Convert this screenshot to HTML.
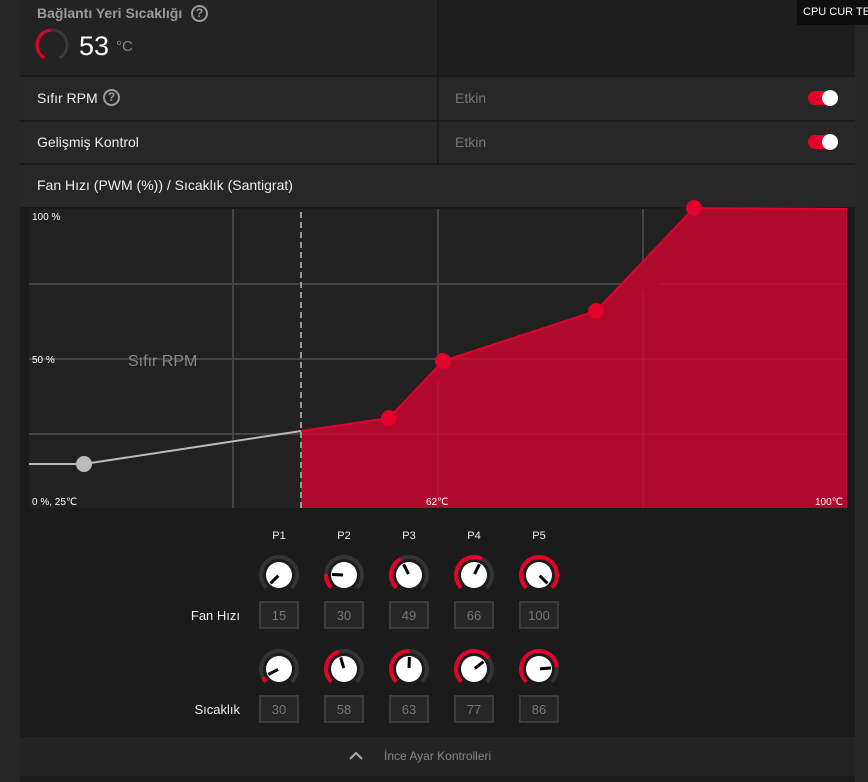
<!DOCTYPE html>
<html><head><meta charset="utf-8"><style>
*{margin:0;padding:0;box-sizing:border-box}
body{width:868px;height:782px;background:#262626;position:relative;overflow:hidden;font-family:"Liberation Sans",sans-serif}
.a{position:absolute}
</style></head><body>
<div class="a" style="left:20px;top:0;width:835px;height:782px;background:#1b1b1b"></div>
<div class="a" style="left:20px;top:0;width:417px;height:75px;background:#232323"></div>
<div class="a" style="left:439px;top:0;width:416px;height:75px;background:#1e1e1e"></div>
<div class="a" style="left:797px;top:0;width:71px;height:25px;background:#0e0e0e;color:#fff;font-size:11px;line-height:25px;padding-left:6px;white-space:nowrap;overflow:hidden">CPU CUR TEM</div>
<div class="a" style="left:37px;top:5px;color:#9a9a9a;font-size:14px;font-weight:bold">Bağlantı Yeri Sıcaklığı</div>
<div class="a" style="left:191px;top:5px;width:17px;height:17px;border:2px solid #9a9a9a;border-radius:50%;color:#9a9a9a;font-size:12px;font-weight:bold;text-align:center;line-height:13px">?</div>
<div class="a" style="left:79px;top:31px;color:#fff;font-size:27px">53</div>
<div class="a" style="left:116px;top:38px;color:#888;font-size:15px">°C</div>
<div class="a" style="left:20px;top:77px;width:417px;height:43px;background:#272727"></div>
<div class="a" style="left:439px;top:77px;width:416px;height:43px;background:#272727"></div>
<div class="a" style="left:20px;top:122px;width:417px;height:41px;background:#272727"></div>
<div class="a" style="left:439px;top:122px;width:416px;height:41px;background:#272727"></div>
<div class="a" style="left:20px;top:165px;width:835px;height:42px;background:#272727"></div>
<div class="a" style="left:37px;top:90px;color:#eee;font-size:14px">Sıfır RPM</div>
<div class="a" style="left:103px;top:89px;width:17px;height:17px;border:2px solid #9a9a9a;border-radius:50%;color:#9a9a9a;font-size:12px;font-weight:bold;text-align:center;line-height:13px">?</div>
<div class="a" style="left:37px;top:134px;color:#eee;font-size:14px">Gelişmiş Kontrol</div>
<div class="a" style="left:455px;top:90px;color:#777;font-size:14px">Etkin</div>
<div class="a" style="left:455px;top:134px;color:#777;font-size:14px">Etkin</div>
<div class="a" style="left:37px;top:177px;color:#eee;font-size:14px">Fan Hızı (PWM (%)) / Sıcaklık (Santigrat)</div>
<div class="a" style="left:808px;top:91px;width:30px;height:14px;border-radius:7px;background:#e4002b"></div>
<div class="a" style="left:822px;top:90px;width:16px;height:16px;border-radius:50%;background:#fff"></div>
<div class="a" style="left:808px;top:135px;width:30px;height:14px;border-radius:7px;background:#e4002b"></div>
<div class="a" style="left:822px;top:134px;width:16px;height:16px;border-radius:50%;background:#fff"></div>
<div class="a" style="left:20px;top:737px;width:835px;height:39px;background:#232323"></div>
<div class="a" style="left:384px;top:749px;color:#888;font-size:12px">İnce Ayar Kontrolleri</div>
<svg class="a" style="left:0;top:0" width="868" height="782" id="s">
<g id="hg"></g>
<path d="M350 759 L356 753 L362 759" fill="none" stroke="#aaa" stroke-width="2"/>
<rect x="29" y="209" width="818" height="299" fill="#212121"/>
<g stroke="#444" stroke-width="2">
<line x1="233" y1="209" x2="233" y2="508"/><line x1="438" y1="209" x2="438" y2="508"/><line x1="643" y1="209" x2="643" y2="508"/>
<line x1="29" y1="284" x2="847" y2="284"/><line x1="29" y1="359" x2="847" y2="359"/><line x1="29" y1="434" x2="847" y2="434"/>
</g>
<polygon points="301,431 389,418 443,361 596,311 694,208 847,209 847,508 301,508" fill="#ad0a2c"/>
<g stroke="#b81a3a" stroke-width="1"><line x1="438" y1="380" x2="438" y2="508"/><line x1="643" y1="290" x2="643" y2="508"/>
<line x1="660" y1="284" x2="847" y2="284"/><line x1="443" y1="359" x2="847" y2="359"/><line x1="301" y1="434" x2="847" y2="434"/></g>
<polyline points="301,431 389,418 443,361 596,311 694,208 847,209" fill="none" stroke="#e4002b" stroke-width="2"/>
<polyline points="29,464 84,464 301,431" fill="none" stroke="#bbb" stroke-width="2"/>
<line x1="301" y1="212" x2="301" y2="508" stroke="#999" stroke-width="2" stroke-dasharray="6,4"/>
<circle cx="84" cy="464" r="8" fill="#bbb"/>
<g fill="#e4002b"><circle cx="389" cy="418" r="8"/><circle cx="443" cy="361" r="8"/><circle cx="596" cy="311" r="8"/><circle cx="694" cy="208" r="8"/></g>
<g font-size="10" fill="#fff"><text x="32" y="220">100 %</text><text x="32" y="363">50 %</text><text x="32" y="505">0 %, 25℃</text><text x="426" y="505">62℃</text><text x="815" y="505">100℃</text></g>
<text x="128" y="366" font-size="16" fill="#888">Sıfır RPM</text>
<g font-size="11" fill="#eee" text-anchor="middle"><text x="279" y="539">P1</text><text x="344" y="539">P2</text><text x="409" y="539">P3</text><text x="474" y="539">P4</text><text x="539" y="539">P5</text></g>
<text x="240" y="620" font-size="13" fill="#eee" text-anchor="end">Fan Hızı</text>
<text x="240" y="714" font-size="13" fill="#eee" text-anchor="end">Sıcaklık</text>
<g id="k"></g>
</svg>
<script>
var g=document.getElementById('k'),h='';
function pt(cx,cy,r,a){a=a*Math.PI/180;return [cx+r*Math.cos(a),cy-r*Math.sin(a)];}
function arc(cx,cy,r,a1,a2){var p=pt(cx,cy,r,a1),q=pt(cx,cy,r,a2);return 'M'+p[0]+' '+p[1]+' A'+r+' '+r+' 0 '+((a1-a2)>180?1:0)+' 1 '+q[0]+' '+q[1];}
document.getElementById('hg').innerHTML='<path d="'+arc(52,45,15,240,-60)+'" fill="none" stroke="#3a3a3a" stroke-width="3"/><path d="'+arc(52,45,15,240,95)+'" fill="none" stroke="#e4002b" stroke-width="3"/>';
var xs=[279,344,409,474,539],fan=[15,30,49,66,100],tmp=[30,58,63,77,86];
function row(cy,vals,lo,hi,by){for(var i=0;i<5;i++){var cx=xs[i],f=(vals[i]-lo)/(hi-lo),a=225-270*f;
h+='<path d="'+arc(cx,cy,18,225,-45)+'" fill="none" stroke="#333" stroke-width="4"/>';
if(f>0.01)h+='<path d="'+arc(cx,cy,18,225,a)+'" fill="none" stroke="#e4002b" stroke-width="4"/>';
h+='<circle cx="'+cx+'" cy="'+cy+'" r="13" fill="#fff"/>';
var p=pt(cx,cy,1,a),q=pt(cx,cy,12,a);h+='<line x1="'+p[0]+'" y1="'+p[1]+'" x2="'+q[0]+'" y2="'+q[1]+'" stroke="#000" stroke-width="3"/>';
h+='<rect x="'+(cx-19)+'" y="'+by+'" width="38" height="26" fill="#262626" stroke="#3c3c3c" stroke-width="2"/>';
h+='<text x="'+cx+'" y="'+(by+18)+'" font-size="13" fill="#777" text-anchor="middle">'+vals[i]+'</text>';}}
row(575,fan,15,100,602);row(669,tmp,25,100,696);
g.innerHTML=h;
</script>
</body></html>
